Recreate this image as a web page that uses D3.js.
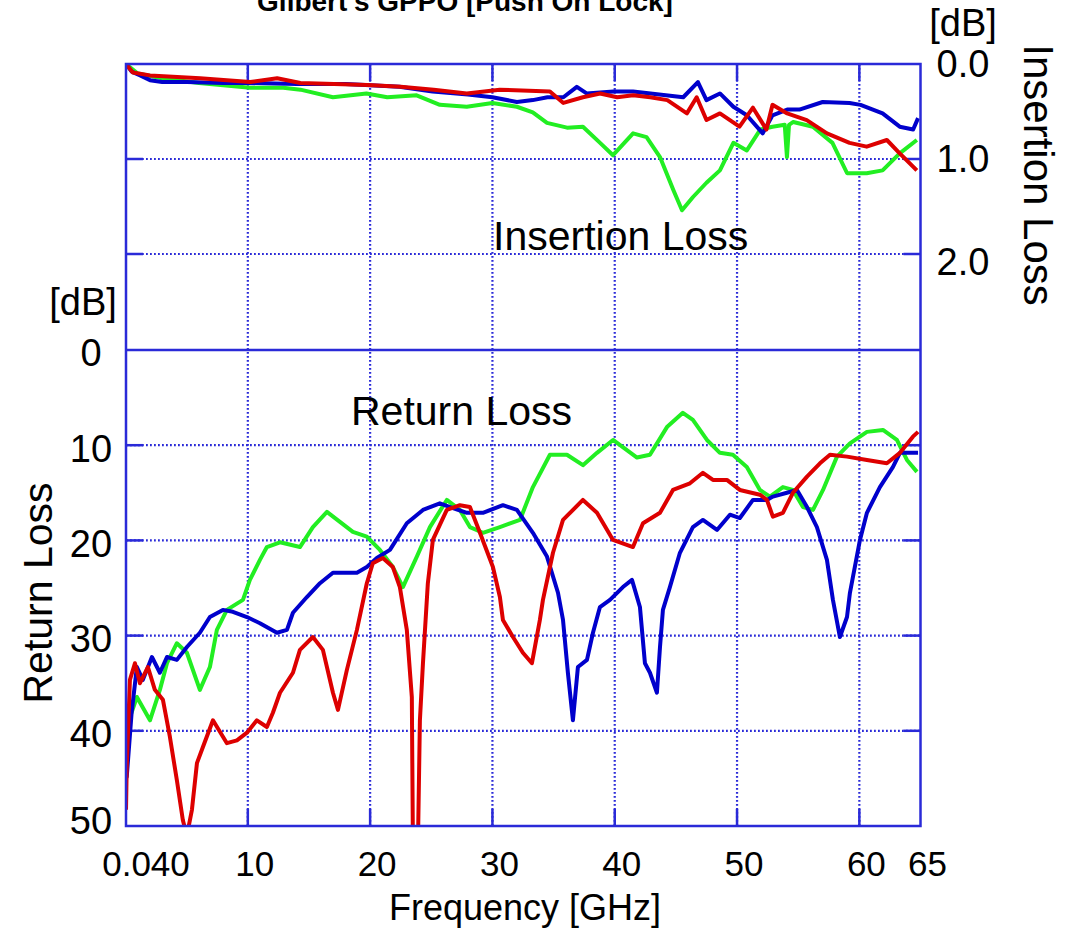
<!DOCTYPE html>
<html><head><meta charset="utf-8">
<script src="https://cdn.jsdelivr.net/npm/d3@7/dist/d3.min.js"></script>
<style>
body{margin:0;background:#fff}
svg{display:block}
text{font-family:Arial,"Liberation Sans",sans-serif;fill:#000}
</style>
</head><body>
<svg id="c" width="1072" height="929"></svg>
<script>
// ---------- data ----------
const title = "Gilbert's GPPO [Push On Lock]";
const freqGrid = [10, 20, 30, 40, 50, 60];
const freqTickValues = [0.04, 10, 20, 30, 40, 50, 60, 65];
const freqTickLabels = ["0.040", "10", "20", "30", "40", "50", "60", "65"];
const ilTickValues = [0, 1, 2];
const ilTickLabels = ["0.0", "1.0", "2.0"];
const rlTickValues = [0, 10, 20, 30, 40, 50];
const rlTickLabels = ["0", "10", "20", "30", "40", "50"];

// Insertion loss [GHz, dB]
const ilBlue = [[0.04,0],[0.5,0.08],[1.2,0.12],[2,0.17],[3,0.19],[5,0.19],[8,0.2],[10,0.2],[14,0.21],[18,0.21],[22.4,0.24],[25.1,0.29],[28,0.32],[30,0.35],[32,0.4],[33.3,0.38],[34.5,0.35],[35.8,0.35],[36.9,0.24],[37.7,0.31],[39.9,0.29],[41.5,0.29],[45.6,0.35],[46.8,0.19],[47.5,0.38],[48.6,0.31],[49.7,0.45],[50.8,0.54],[52.1,0.73],[52.9,0.54],[54.1,0.48],[55.1,0.48],[57,0.4],[59.2,0.41],[60.1,0.43],[61.9,0.52],[63.3,0.66],[64.4,0.69],[64.8,0.57]];
const ilRed = [[0.04,0],[0.6,0.09],[2,0.12],[6.1,0.15],[10.2,0.19],[12.4,0.15],[14.3,0.2],[19.8,0.22],[22.5,0.24],[25.2,0.27],[27.9,0.31],[30.6,0.27],[34.7,0.29],[35.8,0.41],[37.4,0.35],[38.8,0.31],[40.2,0.35],[41.5,0.33],[42.9,0.35],[44.3,0.38],[45.9,0.52],[46.7,0.35],[47.5,0.59],[48.6,0.52],[50.2,0.66],[51.3,0.46],[52.4,0.69],[52.9,0.43],[54.1,0.52],[55.7,0.59],[57.35,0.73],[59.2,0.83],[60.6,0.87],[62.25,0.8],[63.3,0.94],[64.7,1.12]];
const ilGreen = [[0.04,0],[1,0.1],[3,0.15],[6,0.2],[10.2,0.25],[12.9,0.25],[14.3,0.27],[16.96,0.35],[19.7,0.31],[21.4,0.35],[23.8,0.33],[25.7,0.43],[27.9,0.45],[30,0.41],[32,0.45],[33.3,0.51],[34.46,0.62],[36.1,0.67],[37.4,0.66],[38.8,0.83],[39.86,0.96],[41.5,0.73],[42.6,0.77],[43.7,0.98],[44.8,1.33],[45.5,1.54],[46.4,1.4],[47.5,1.25],[48.6,1.12],[49.7,0.83],[50.8,0.91],[51.9,0.69],[52.9,0.66],[53.9,0.64],[54.08,0.98],[54.25,0.64],[54.6,0.61],[56.2,0.66],[57.8,0.83],[59,1.15],[60.6,1.15],[61.9,1.12],[63.3,0.94],[64.7,0.8]];

// Return loss [GHz, dB]
const rlBlue = [[0.04,44.5],[0.1,44.85],[0.5,38.1],[0.93,33.3],[1.42,34.65],[2.16,32.25],[2.81,33.9],[3.39,32.25],[4.2,32.55],[5.02,31.2],[6.08,29.7],[6.9,28.05],[7.96,27.3],[8.78,27.5],[9.93,28.05],[10.99,28.7],[12.38,29.7],[13.2,29.4],[13.69,27.6],[14.83,25.95],[15.9,24.5],[16.96,23.4],[18.92,23.4],[19.73,22.8],[20.55,21.85],[21.62,21],[23,18.2],[24.32,16.8],[25.7,16.1],[26.77,16.6],[27.91,17.1],[29.22,17.1],[30.86,16.3],[32,16.8],[33.31,19.2],[34.46,21.7],[35.36,25.5],[35.77,28.35],[36.17,33.9],[36.58,38.9],[36.99,33.3],[37.73,32.55],[38.22,29.7],[38.79,27],[39.61,26.25],[40.67,24.9],[41.41,24.15],[42.06,27],[42.47,32.9],[42.88,33.9],[43.45,36],[43.7,31.2],[43.94,27.3],[44.51,24.9],[45.33,21.3],[46.39,18.6],[47.21,17.85],[48.36,18.9],[49.42,17.3],[50.23,17.65],[51.3,15.75],[52.44,15.75],[52.93,15.4],[54.08,15],[54.9,14.7],[55.72,16.5],[56.53,18.6],[57.35,22.05],[57.84,26.25],[58.41,30.15],[58.99,28.05],[59.23,25.5],[60.05,19.95],[60.62,17.1],[61.68,14.4],[62.74,12.3],[63.32,10.8],[64.38,10.8],[64.8,10.8]];
const rlRed = [[0.04,48.3],[0.1,43.8],[0.36,34.65],[0.77,32.9],[1.18,35],[1.83,33.3],[2.4,35.7],[3.06,36.75],[3.63,40.65],[4.2,45.2],[4.69,49.4],[5.02,51],[5.43,48.3],[5.84,43.4],[6.33,41.7],[7.15,38.9],[8.29,41.3],[9.11,41],[9.93,40.2],[10.74,38.9],[11.56,39.6],[12.05,38.1],[12.63,36],[13.69,33.9],[14.26,31.5],[15.32,30.15],[16.14,31.5],[16.96,36],[17.37,37.8],[18.1,33.6],[18.92,29.4],[19.73,24.5],[20.22,22.4],[21.04,21.85],[21.86,22.8],[22.43,24.9],[23,29.4],[23.41,36.45],[23.5,52],[23.91,52],[24.07,38.9],[24.32,32.9],[24.72,24.5],[25.13,19.95],[26.27,16.8],[27.34,16.3],[28.16,16.5],[28.98,19.2],[30.04,22.8],[30.61,25.95],[30.86,28.35],[31.68,30.15],[32.49,31.8],[33.23,32.9],[33.88,28.35],[34.13,26.25],[34.95,21.3],[35.77,17.85],[37.4,15.75],[38.55,17.1],[39.86,19.95],[41.49,20.7],[42.31,18.2],[43.7,17.1],[44.76,14.7],[46.15,14],[47.21,12.9],[48.03,13.65],[49.17,13.65],[50.23,14.7],[51.87,15.2],[52.44,15.75],[52.93,17.5],[53.75,17.1],[54.57,15],[55.72,13.3],[56.78,11.9],[57.6,11],[58.99,11.2],[60.62,11.55],[62.25,11.9],[63.32,10.8],[64.38,9.1],[64.8,8.6]];
const rlGreen = [[0.04,41.3],[0.2,39.2],[0.93,36.45],[2,38.9],[2.81,35.7],[3.39,32.9],[4.2,30.8],[5.02,31.8],[6.08,35.7],[6.9,33.3],[7.47,29.4],[8.29,27.3],[9.6,26.25],[10.17,24.15],[10.99,22.05],[11.56,20.7],[12.63,20.2],[14.26,20.7],[15.32,18.6],[16.47,17],[17.53,18.05],[18.59,19.1],[19.73,19.6],[20.8,21],[21.86,22.8],[22.68,24.9],[23.82,21.7],[24.89,18.6],[26.27,15.75],[27.34,16.8],[28.16,18.6],[29.22,19.2],[30.61,18.6],[32.25,17.85],[33.31,14.4],[34.7,11],[36.09,11],[37.4,12.1],[38.55,10.8],[39.86,9.45],[41.82,11.3],[42.88,11],[44.27,8.1],[45.57,6.6],[46.39,7.35],[47.54,9.45],[48.6,10.8],[49.66,11],[50.8,12.3],[51.87,14.7],[52.69,15.4],[53.75,14.4],[54.57,14.7],[55.39,16.5],[56.21,16.8],[57.03,14.7],[58.17,11.2],[59.23,9.8],[60.62,8.6],[61.93,8.4],[63.07,9.45],[63.89,11.55],[64.71,12.8]];

// ---------- drawing ----------
const svg = d3.select("#c");
const axisColor = "#2a2ad8";
const x = d3.scaleLinear().domain([0.04, 65]).range([126, 920.5]);
const yIL = d3.scaleLinear().domain([0, 3]).range([64, 349]);
const yRL = d3.scaleLinear().domain([0, 50]).range([350, 826]);
const X0 = x(0.04), X1 = x(65), Y0 = yIL(0), Y1 = yRL(50);

svg.append("defs").append("clipPath").attr("id", "plot")
  .append("rect").attr("x", X0).attr("y", Y0).attr("width", X1 - X0).attr("height", Y1 - Y0);

// title (cut at top as in reference)
svg.append("text").attr("x", 465).attr("y", 11).attr("text-anchor", "middle")
  .style("font-size", "28px").style("font-weight", "bold").text(title);

const g = svg.append("g");
// dotted grid
g.selectAll(".vg").data(freqGrid).join("line")
  .attr("x1", d => x(d)).attr("x2", d => x(d)).attr("y1", Y0).attr("y2", Y1)
  .attr("stroke", axisColor).attr("stroke-width", 2.2).attr("stroke-dasharray", "1.8,2.2");
const hGrid = ilTickValues.filter(v => v > 0).map(v => yIL(v))
  .concat(rlTickValues.filter(v => v > 0 && v < 50).map(v => yRL(v)));
g.selectAll(".hg").data(hGrid).join("line")
  .attr("x1", X0).attr("x2", X1).attr("y1", d => d).attr("y2", d => d)
  .attr("stroke", axisColor).attr("stroke-width", 2.2).attr("stroke-dasharray", "1.8,2.2");
// separator
g.append("line").attr("x1", X0).attr("x2", X1).attr("y1", yRL(0)).attr("y2", yRL(0))
  .attr("stroke", axisColor).attr("stroke-width", 2.5);

// ticks inward
const tl = 17;
g.selectAll(".tb").data(freqGrid).join("line")
  .attr("x1", d => x(d)).attr("x2", d => x(d)).attr("y1", Y1).attr("y2", Y1 - tl)
  .attr("stroke", axisColor).attr("stroke-width", 2.5);
g.selectAll(".tt").data(freqGrid).join("line")
  .attr("x1", d => x(d)).attr("x2", d => x(d)).attr("y1", Y0).attr("y2", Y0 + tl)
  .attr("stroke", axisColor).attr("stroke-width", 2.5);
g.selectAll(".tlft").data(hGrid).join("line")
  .attr("x1", X0).attr("x2", X0 + tl).attr("y1", d => d).attr("y2", d => d)
  .attr("stroke", axisColor).attr("stroke-width", 2.5);
g.selectAll(".trgt").data(hGrid).join("line")
  .attr("x1", X1).attr("x2", X1 - tl).attr("y1", d => d).attr("y2", d => d)
  .attr("stroke", axisColor).attr("stroke-width", 2.5);

// curves
const plot = svg.append("g").attr("clip-path", "url(#plot)");
const lineIL = d3.line().x(d => x(d[0])).y(d => yIL(d[1]));
const lineRL = d3.line().x(d => x(d[0])).y(d => yRL(d[1]));
const series = [
  {il: ilGreen, rl: rlGreen, color: "#22ee22"},
  {il: ilBlue, rl: rlBlue, color: "#0000cc"},
  {il: ilRed, rl: rlRed, color: "#dd0000"}
];
series.forEach(s => {
  plot.append("path").attr("d", lineIL(s.il)).attr("fill", "none")
    .attr("stroke", s.color).attr("stroke-width", 4).attr("stroke-linejoin", "round");
  plot.append("path").attr("d", lineRL(s.rl)).attr("fill", "none")
    .attr("stroke", s.color).attr("stroke-width", 4).attr("stroke-linejoin", "round");
});

// frame
svg.append("rect").attr("x", X0).attr("y", Y0).attr("width", X1 - X0).attr("height", Y1 - Y0)
  .attr("fill", "none").attr("stroke", axisColor).attr("stroke-width", 2.5);

// x tick labels
svg.selectAll(".xl").data(freqTickValues).join("text")
  .attr("x", (d, i) => x(d) + (i === 0 ? 20 : 7)).attr("y", 876)
  .attr("text-anchor", "middle").style("font-size", "35px")
  .text((d, i) => freqTickLabels[i]);
svg.append("text").attr("x", 525).attr("y", 920).attr("text-anchor", "middle")
  .style("font-size", "36px").text("Frequency [GHz]");

// left RL tick labels
svg.selectAll(".yl").data(rlTickValues).join("text")
  .attr("x", 91).attr("y", d => Math.min(yRL(d) + 3, 821))
  .attr("dy", "0.35em").attr("text-anchor", "middle").style("font-size", "38px")
  .text((d, i) => rlTickLabels[i]);
svg.append("text").attr("x", 83).attr("y", 315).attr("text-anchor", "middle")
  .style("font-size", "38px").text("[dB]");
svg.append("text").attr("transform", "translate(52,593) rotate(-90)")
  .attr("text-anchor", "middle").style("font-size", "41px").text("Return Loss");

// right IL tick labels
svg.selectAll(".yr").data(ilTickValues).join("text")
  .attr("x", 963).attr("y", (d, i) => yIL(d) + (i === 2 ? 8 : 0))
  .attr("dy", "0.35em").attr("text-anchor", "middle").style("font-size", "38px")
  .text((d, i) => ilTickLabels[i]);
svg.append("text").attr("x", 963).attr("y", 36).attr("text-anchor", "middle")
  .style("font-size", "38px").text("[dB]");
svg.append("text").attr("transform", "translate(1024,175) rotate(90)")
  .attr("text-anchor", "middle").style("font-size", "42px").text("Insertion Loss");

// annotations
svg.append("text").attr("x", 493).attr("y", 250).style("font-size", "41px").text("Insertion Loss");
svg.append("text").attr("x", 351).attr("y", 425).style("font-size", "41px").text("Return Loss");
</script>
</body></html>
